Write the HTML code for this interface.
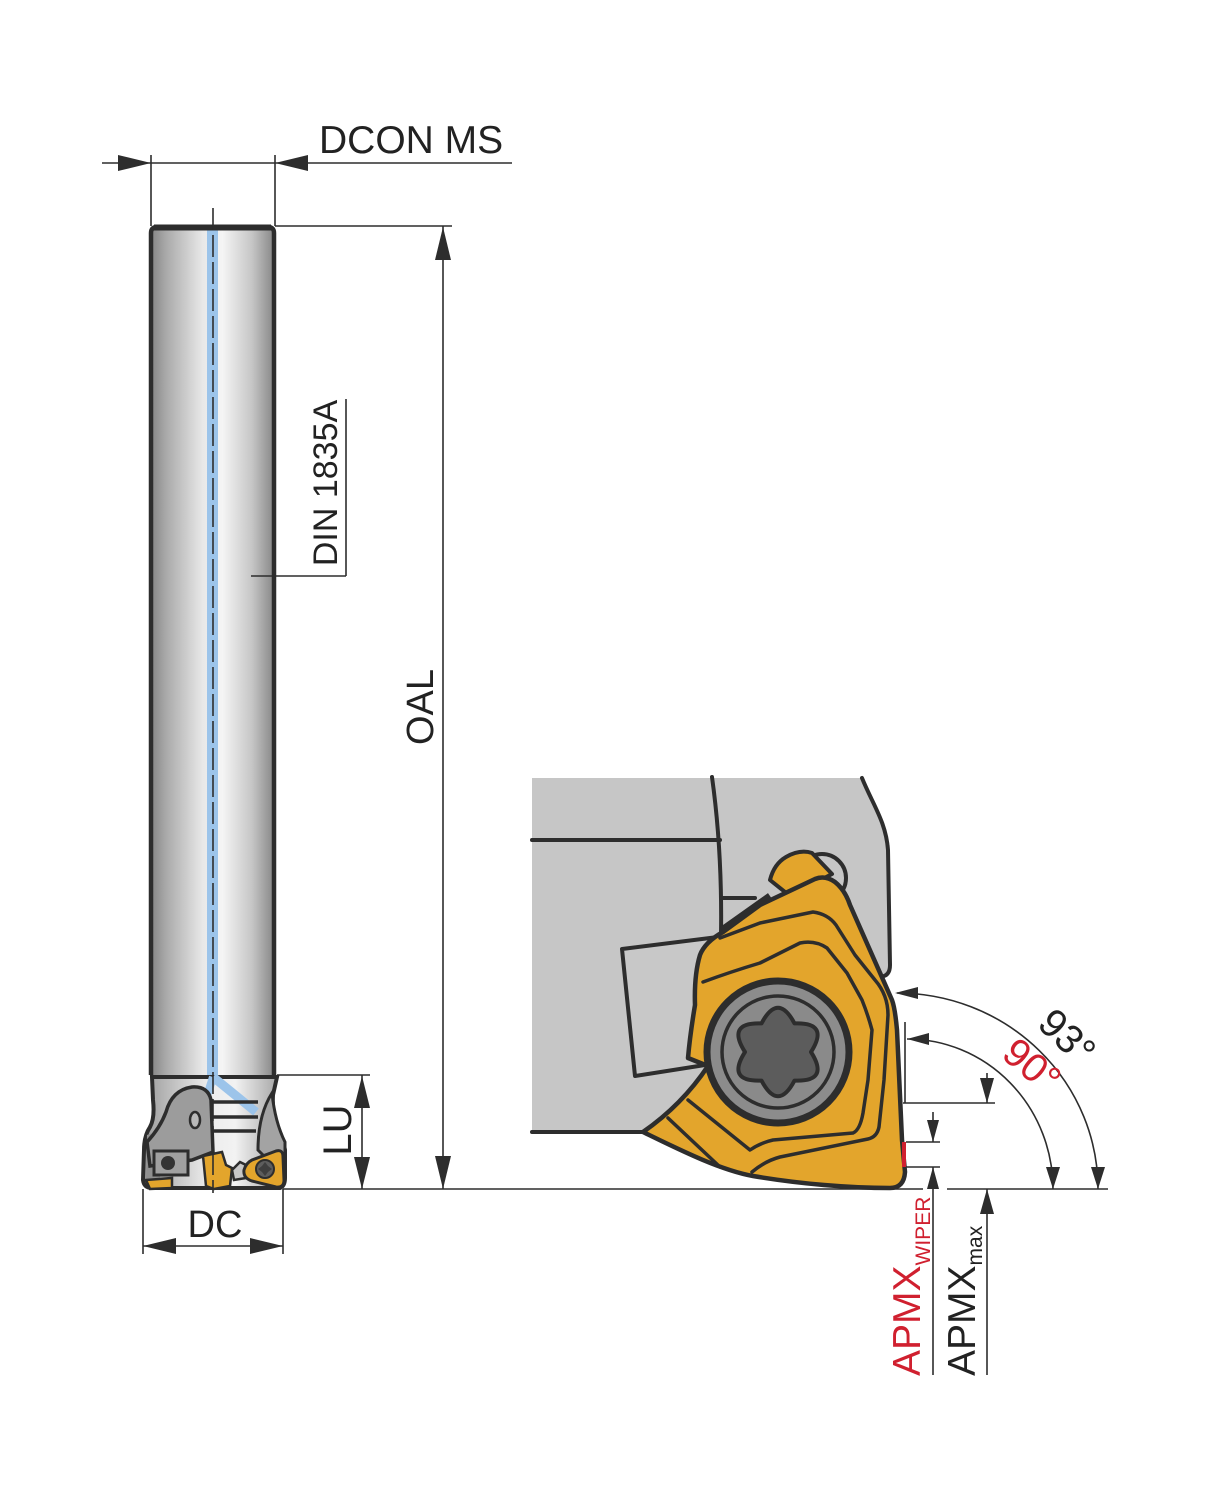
<!DOCTYPE html>
<html><head><meta charset="utf-8"><style>
html,body{margin:0;padding:0;background:#fff;}
svg{display:block;}
text{font-family:"Liberation Sans",Arial,sans-serif;}
</style></head><body>
<svg width="1209" height="1500" viewBox="0 0 1209 1500" xmlns="http://www.w3.org/2000/svg">
<defs>
<linearGradient id="sg" x1="0" y1="0" x2="1" y2="0">
<stop offset="0" stop-color="#858585"/>
<stop offset="0.12" stop-color="#a9a9a9"/>
<stop offset="0.42" stop-color="#e8e8e8"/>
<stop offset="0.58" stop-color="#f5f5f5"/>
<stop offset="0.82" stop-color="#c6c6c6"/>
<stop offset="1" stop-color="#878787"/>
</linearGradient>
<linearGradient id="hg" x1="0" y1="0" x2="1" y2="0">
<stop offset="0" stop-color="#9a9a9a"/>
<stop offset="0.45" stop-color="#ececec"/>
<stop offset="0.65" stop-color="#f2f2f2"/>
<stop offset="1" stop-color="#9a9a9a"/>
</linearGradient>
</defs>

<!-- ===== SHANK ===== -->
<rect x="151" y="228" width="123" height="847" fill="url(#sg)"/>
<rect x="207" y="230" width="11" height="847" fill="#9cc4ea"/>
<path d="M151,1075 L151,233 Q151,227 157,227 L268,227 Q274,227 274,233 L274,1075" fill="none" stroke="#2d2d2d" stroke-width="4.5"/>
<line x1="154" y1="227.5" x2="271" y2="227.5" stroke="#2d2d2d" stroke-width="6"/>

<!-- ===== HEAD ===== -->
<path d="M152,1077 L153,1100 Q155,1118 150,1127 Q144,1136 144,1150 L143,1180 Q144,1188 152,1188 L280,1188 Q285,1186 285,1178 L285,1150 Q283,1138 277,1125 Q272,1112 273,1095 L277,1077 Z" fill="url(#hg)" stroke="#2d2d2d" stroke-width="4"/>
<path d="M147,1135 L162,1130 L160,1180 L146,1182 Z" fill="#8f8f8f"/>
<!-- coolant -->
<path d="M213,1077 L256,1112" stroke="#9cc4ea" stroke-width="9"/>
<path d="M213,1077 L200,1118" stroke="#9cc4ea" stroke-width="8"/>
<!-- ribs -->
<line x1="212" y1="1102" x2="258" y2="1102" stroke="#2d2d2d" stroke-width="3.5"/>
<line x1="212" y1="1117" x2="258" y2="1117" stroke="#2d2d2d" stroke-width="3.5"/>
<line x1="212" y1="1131" x2="256" y2="1131" stroke="#2d2d2d" stroke-width="3.5"/>
<!-- right flute -->
<path d="M272,1093 Q258,1115 258,1150 L268,1160 L285,1156 L285,1142 Q275,1122 272,1093 Z" fill="#a3a3a3" stroke="#2d2d2d" stroke-width="3"/>
<!-- left seat/clamp -->
<path d="M166,1112 Q172,1090 192,1087 Q208,1086 211,1100 L213,1152 L192,1160 L150,1166 L147,1142 Q160,1128 166,1112 Z" fill="#9c9c9c" stroke="#2d2d2d" stroke-width="3.5"/>
<ellipse cx="195" cy="1120" rx="5" ry="8" fill="#b8b8b8" stroke="#2d2d2d" stroke-width="2.5"/>
<rect x="154" y="1151" width="34" height="24" fill="#a0a0a0" stroke="#2d2d2d" stroke-width="3"/>
<circle cx="168" cy="1163" r="7" fill="#333"/>
<!-- gold bits -->
<path d="M146,1180 L172,1178 L172,1188 L150,1189 Z" fill="#e3a52c" stroke="#2d2d2d" stroke-width="2.5"/>
<path d="M203,1156 L222,1152 L226,1165 L232,1168 L230,1186 L214,1189 L206,1186 Z" fill="#e3a52c" stroke="#2d2d2d" stroke-width="2.5"/>
<path d="M232,1170 L240,1162 L248,1166 L246,1178 L234,1180 Z" fill="#c8c8c8" stroke="#2d2d2d" stroke-width="2.5"/>
<path d="M244,1170 Q246,1163 252,1160 L276,1151 Q283,1149 283,1157 L284,1180 Q284,1188 276,1187 L252,1181 Q243,1178 244,1170 Z" fill="#e3a52c" stroke="#2d2d2d" stroke-width="3"/>
<circle cx="265" cy="1169" r="9" fill="#5d5d5d" stroke="#2d2d2d" stroke-width="2"/>
<path d="M265,1162 L268,1166 L272,1169 L268,1172 L265,1176 L262,1172 L258,1169 L262,1166 Z" fill="#3e3e3e"/>

<!-- centre line -->
<line x1="213" y1="208" x2="213" y2="1193" stroke="#2d2d2d" stroke-width="1.6" stroke-dasharray="22,5"/>

<!-- ===== DIMENSIONS LEFT ===== -->
<g stroke="#2d2d2d" stroke-width="1.6" fill="none">
<line x1="102" y1="163" x2="512" y2="163"/>
<line x1="151" y1="155" x2="151" y2="226"/>
<line x1="275" y1="155" x2="275" y2="226"/>
<line x1="275" y1="226" x2="452" y2="226"/>
<line x1="443" y1="226" x2="443" y2="1189"/>
<line x1="251" y1="576" x2="346" y2="576"/>
<line x1="346" y1="399" x2="346" y2="576"/>
<line x1="277" y1="1075" x2="370" y2="1075"/>
<line x1="362" y1="1075" x2="362" y2="1189"/>
<line x1="283" y1="1189" x2="923" y2="1189"/>
<line x1="947" y1="1189" x2="1108" y2="1189"/>
<line x1="143" y1="1189" x2="143" y2="1254"/>
<line x1="283" y1="1189" x2="283" y2="1254"/>
<line x1="143" y1="1246" x2="283" y2="1246"/>
</g>
<g fill="#2d2d2d">
<polygon points="151,163 118,155 118,171"/>
<polygon points="275,163 308,155 308,171"/>
<polygon points="443,227 435,260 451,260"/>
<polygon points="443,1189 435,1156 451,1156"/>
<polygon points="362,1076 354,1108 370,1108"/>
<polygon points="362,1189 354,1157 370,1157"/>
<polygon points="143,1246 176,1238 176,1254"/>
<polygon points="283,1246 250,1238 250,1254"/>
</g>
<g fill="#222">
<text x="319" y="153" font-size="39">DCON MS</text>
<text x="215" y="1237" font-size="38" text-anchor="middle">DC</text>
<text transform="translate(351,1130) rotate(-90)" font-size="40" text-anchor="middle">LU</text>
<text transform="translate(433,707) rotate(-90)" font-size="38" text-anchor="middle">OAL</text>
<text transform="translate(337,483) rotate(-90)" font-size="34" text-anchor="middle">DIN 1835A</text>
</g>

<!-- ===== DETAIL RIGHT ===== -->
<path d="M532,778 L862,778 C873,805 886,822 888,850 L890,965 L885,976 L780,1060 L700,1120 L643,1132 L532,1132 Z" fill="#c6c6c6"/>
<g stroke="#2d2d2d" stroke-width="4" fill="none" stroke-linecap="round">
<line x1="532" y1="840" x2="720" y2="840"/>
<line x1="532" y1="1132" x2="645" y2="1132"/>
<path d="M712,777 C718,820 722,870 721,935"/>
<path d="M862,778 C873,805 886,822 888,850 L890,965 Q890,974 884,976"/>
<line x1="722" y1="898" x2="755" y2="898"/>
</g>
<!-- clamp wedge -->
<polygon points="622,949 718,937 705,1065 635,1076" fill="#c8c8c8" stroke="#2d2d2d" stroke-width="4" stroke-linejoin="round"/>
<!-- clamp pin -->
<circle cx="822" cy="878" r="24" fill="#c6c6c6" stroke="#2d2d2d" stroke-width="4"/>
<!-- top gold piece -->
<path d="M770,880 Q774,864 786,857 Q800,849 812,853 L832,874 L790,896 Z" fill="#e3a52c" stroke="#2d2d2d" stroke-width="4" stroke-linejoin="round"/>
<!-- insert -->
<path d="M643,1132 C680,1150 720,1170 753,1176 C800,1184 850,1188 890,1188 Q904,1188 905,1172 L902,1140 L897,1030 Q895,1008 892,1000 L850,905 Q845,890 835,882 Q825,875 815,879 L760,905 L723,932 Q705,942 700,955 Q694,975 695,1005 Q690,1035 688,1058 L708,1066 Q682,1105 643,1132 Z" fill="#e3a52c" stroke="#2d2d2d" stroke-width="4.5" stroke-linejoin="round"/>
<line x1="722" y1="930" x2="770" y2="896" stroke="#2d2d2d" stroke-width="7"/>
<g stroke="#2d2d2d" stroke-width="3.5" fill="none" stroke-linejoin="round" stroke-linecap="round">
<path d="M720,938 L760,923 L813,912 Q828,914 836,925 L855,955 L875,980 Q888,995 888,1015 L884,1080 L879,1127 Q877,1137 868,1139 L780,1157 Q765,1161 752,1172"/>
<path d="M703,982 Q730,972 760,963 L800,943 Q815,940 827,948 L847,973 L862,1000 Q868,1015 872,1030 L868,1080 L863,1113 Q860,1130 853,1133 L773,1140 Q760,1143 750,1150 L688,1100"/>
<path d="M668,1118 L720,1167"/>
</g>
<!-- screw -->
<circle cx="778" cy="1052" r="71" fill="#8c8c8c" stroke="#2d2d2d" stroke-width="7"/>
<circle cx="778" cy="1052" r="56" fill="#8a8a8a" stroke="#2d2d2d" stroke-width="3.5"/>
<path d="M761.5,1023.4 Q778,992 794.5,1023.4 Q830,1022 811,1052 Q830,1082 794.5,1080.6 Q778,1112 761.5,1080.6 Q726,1082 745,1052 Q726,1022 761.5,1023.4 Z" fill="#5c5c5c" stroke="#2d2d2d" stroke-width="4" stroke-linejoin="round"/>
<!-- red wiper -->
<line x1="904" y1="1142" x2="904" y2="1167" stroke="#d0202f" stroke-width="4"/>

<!-- angle & APMX dims -->
<g stroke="#2d2d2d" stroke-width="1.6" fill="none">
<path d="M897,993 A201,196 0 0 1 1098,1189"/>
<path d="M907,1039 A146,150 0 0 1 1053,1189"/>
<line x1="905" y1="1022" x2="905" y2="1103"/>
<line x1="903" y1="1103" x2="995" y2="1103"/>
<line x1="987" y1="1073" x2="987" y2="1103"/>
<line x1="987" y1="1189" x2="987" y2="1375"/>
<line x1="906" y1="1142" x2="940" y2="1142"/>
<line x1="906" y1="1167" x2="940" y2="1167"/>
<line x1="933" y1="1112" x2="933" y2="1142"/>
<line x1="933" y1="1167" x2="933" y2="1375"/>
</g>
<g fill="#2d2d2d">
<polygon points="895,993 918,987 918,999"/>
<polygon points="907,1039 929,1033 929,1045"/>
<polygon points="1098,1189 1091,1167 1105,1167"/>
<polygon points="1053,1189 1046,1167 1060,1167"/>
<polygon points="987,1103 980,1078 994,1078"/>
<polygon points="987,1189 980,1214 994,1214"/>
<polygon points="933,1142 927,1120 939,1120"/>
<polygon points="933,1167 927,1189 939,1189"/>
</g>
<text transform="translate(1065,1039) rotate(44)" font-size="40" fill="#222" text-anchor="middle" dominant-baseline="middle">93°</text>
<text transform="translate(1030,1068) rotate(40)" font-size="40" fill="#d0202f" text-anchor="middle" dominant-baseline="middle">90°</text>
<text transform="translate(920,1376) rotate(-90)" font-size="39" fill="#d0202f">APMX<tspan font-size="21" dy="10">WIPER</tspan></text>
<text transform="translate(975,1376) rotate(-90)" font-size="39" fill="#222">APMX<tspan font-size="21" dy="7">max</tspan></text>
</svg>
</body></html>
